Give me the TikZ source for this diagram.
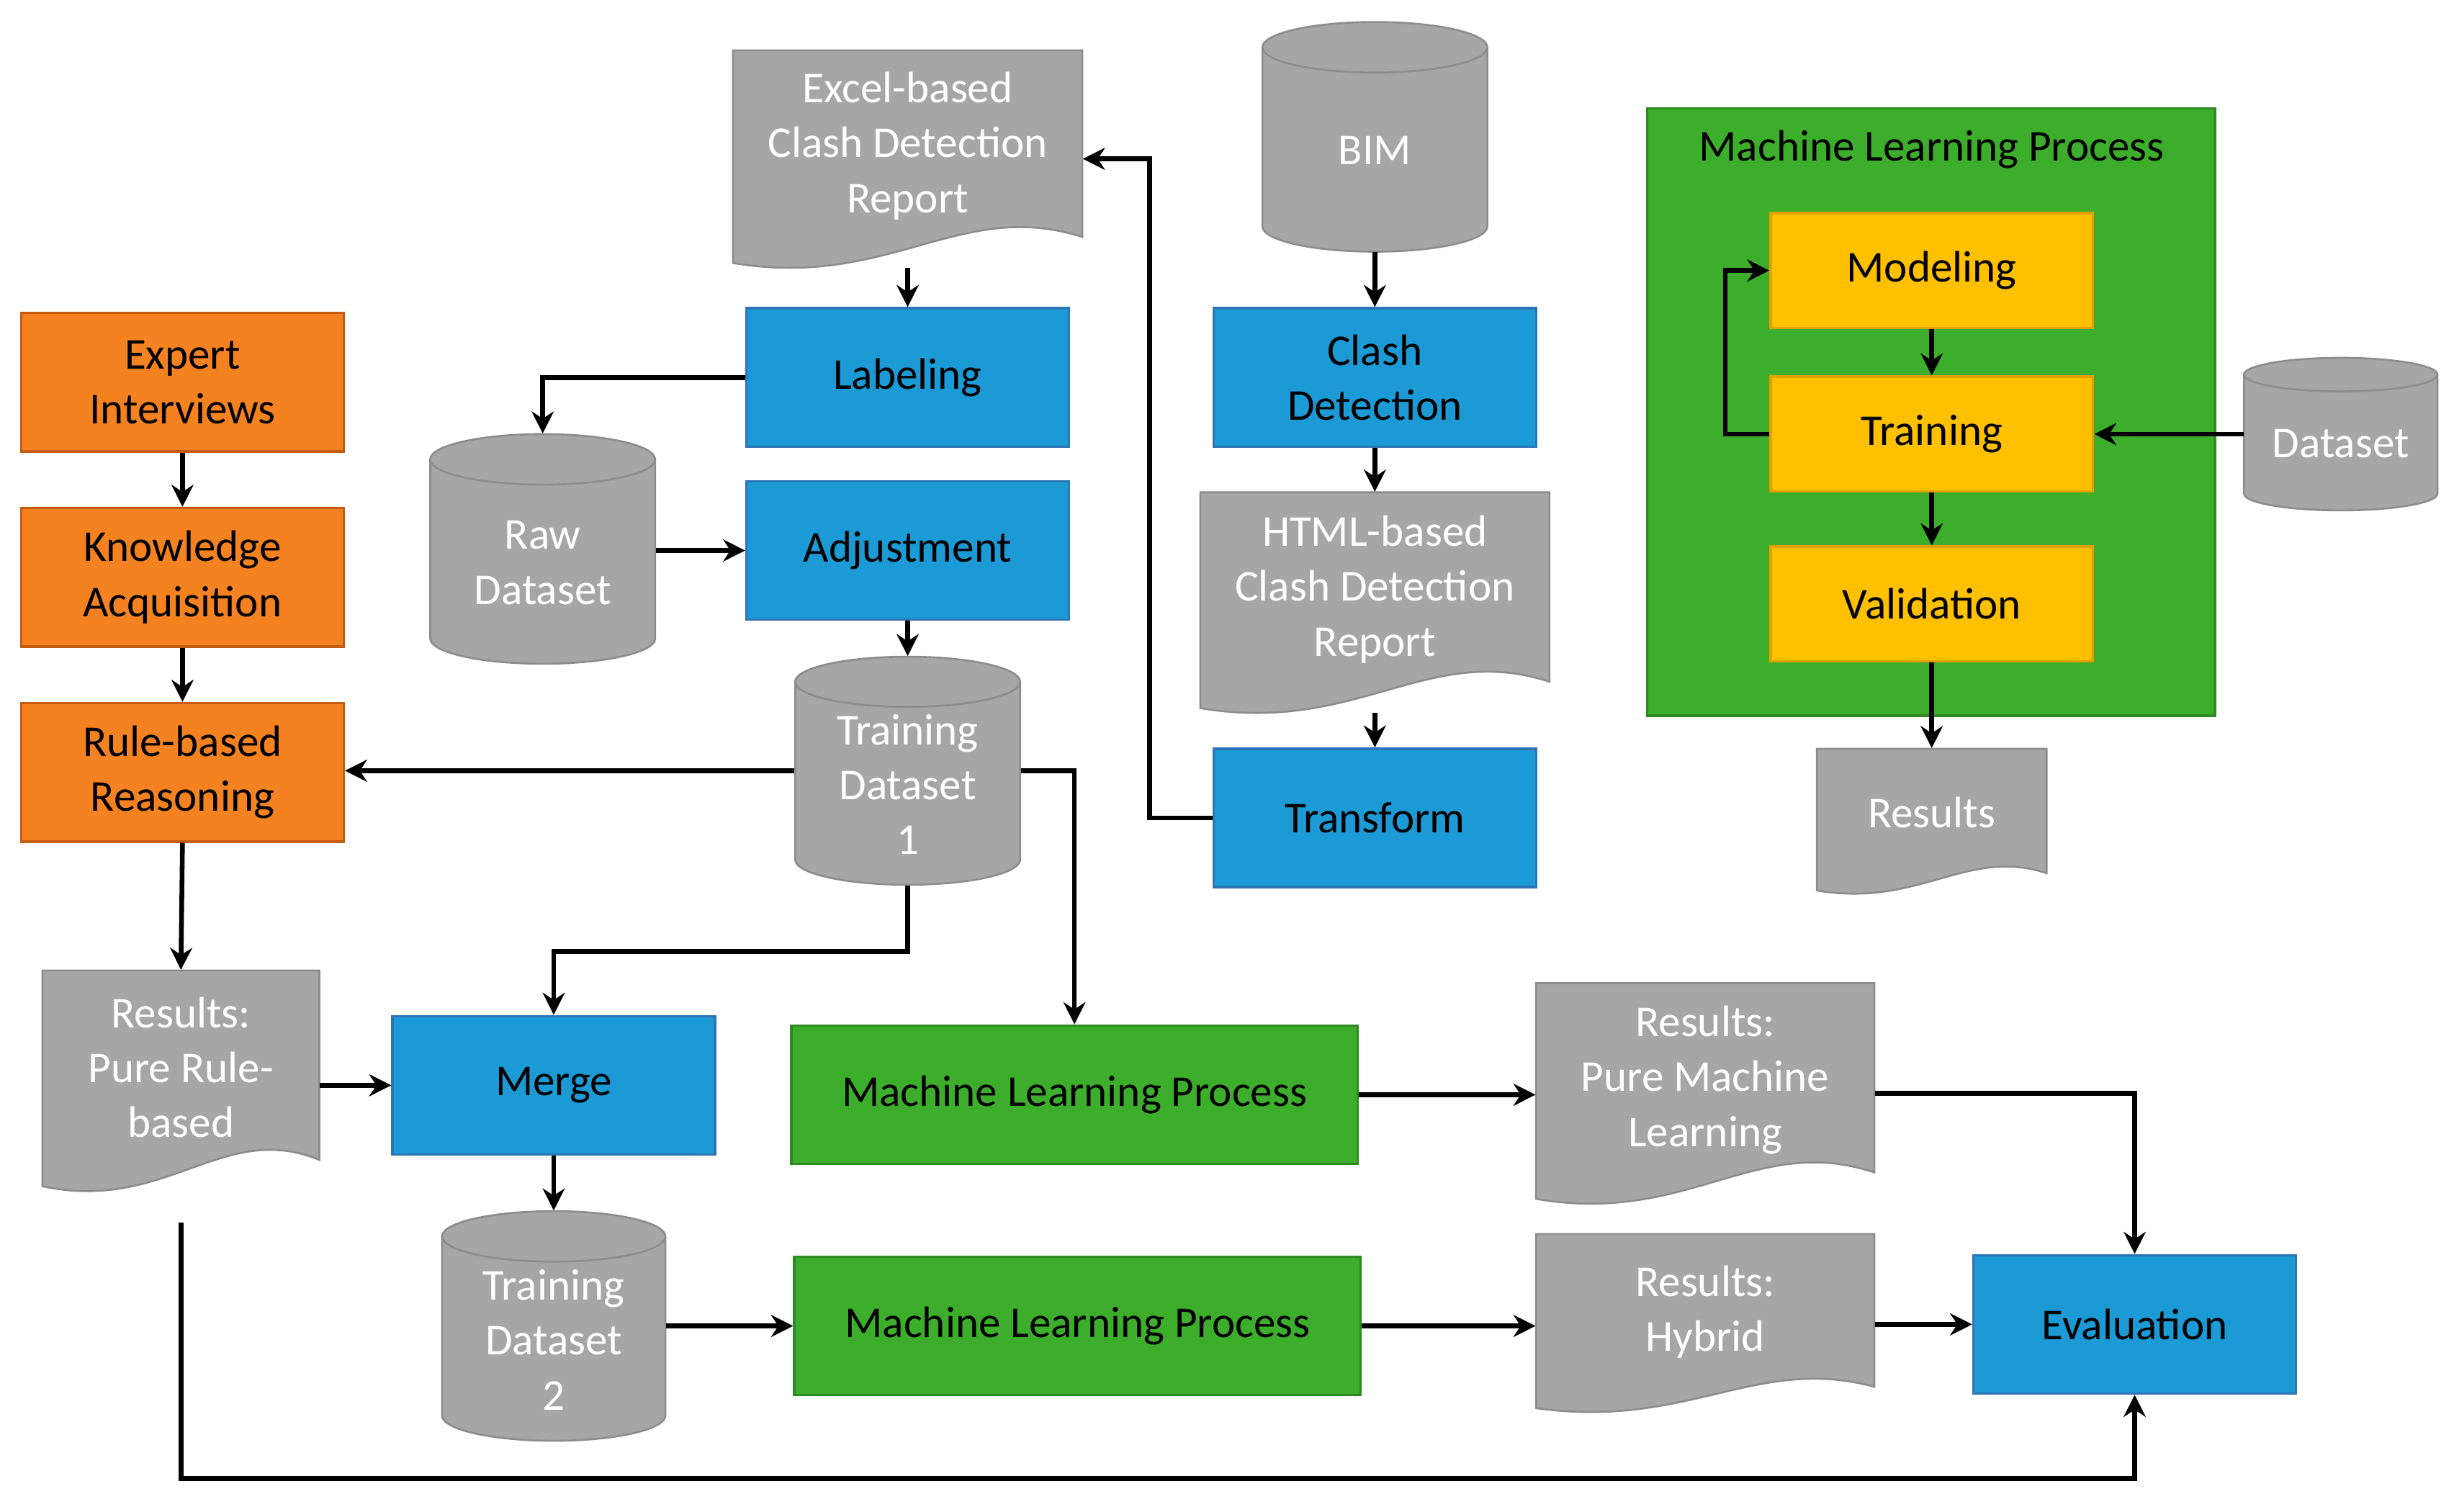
\documentclass[tikz,border=0pt]{standalone}
\usepackage{fontspec}
\setmainfont{Carlito}
\usetikzlibrary{arrows.meta}
\definecolor{gfill}{HTML}{A6A6A6}
\definecolor{gline}{HTML}{8C8C8C}
\definecolor{bfill}{HTML}{1C9AD6}
\definecolor{bline}{HTML}{2E75B6}
\definecolor{ofill}{HTML}{F58220}
\definecolor{oline}{HTML}{C55A11}
\definecolor{grfill}{HTML}{3DAE2B}
\definecolor{grline}{HTML}{2E8B22}
\definecolor{yfill}{HTML}{FFC000}
\definecolor{yline}{HTML}{E0A000}
\tikzset{
 x=0.5pt,y=-0.5pt,
 every node/.style={font=\fontsize{14}{17.5}\selectfont, align=center},
 box/.style={draw, line width=0.8pt, minimum width=102.5pt, minimum height=44pt, inner sep=1pt},
 blue/.style={box, fill=bfill, draw=bline},
 orange/.style={box, fill=ofill, draw=oline},
 green/.style={box, fill=grfill, draw=grline},
 yellow/.style={box, fill=yfill, draw=yline, minimum height=36.5pt},
 arr/.style={line width=1.5pt, -{Stealth[length=7pt,width=7pt]}},
 gtext/.style={text=white}
}
% doc: name, cx, cy, w, h, text
\newcommand\docnode[6]{%
 \filldraw[fill=gfill, draw=gline, line width=0.6pt]
  ({#2-#4/2},{#3-#5/2}) -- ({#2+#4/2},{#3-#5/2}) -- ({#2+#4/2},{#3+#5/2-0.14*#5})
  .. controls ({#2+#4/2-0.35*#4},{#3+#5/2-0.32*#5}) and ({#2-#4/2+0.45*#4},{#3+#5/2+0.1*#5}) ..
  ({#2-#4/2},{#3+#5/2-0.02*#5}) -- cycle;
 \node[minimum width=#4*0.5pt, minimum height=#5*0.5pt, inner sep=0pt] (#1) at (#2,#3) {};
 \node[gtext] at (#2,{#3-0.06*#5}) {#6};
}
% cylinder: name, cx, cy, w, h, text
\newcommand\cylnode[6]{%
 \filldraw[fill=gfill, draw=gline, line width=0.6pt]
  ({#2-#4/2},{#3-#5/2+0.11*#5}) -- ({#2-#4/2},{#3+#5/2-0.11*#5})
  arc[start angle=180, end angle=0, x radius=#4/2, y radius=0.11*#5]
  -- ({#2+#4/2},{#3-#5/2+0.11*#5})
  arc[start angle=0, end angle=-180, x radius=#4/2, y radius=0.11*#5] -- cycle;
 \draw[gline, line width=0.6pt] ({#2-#4/2},{#3-#5/2+0.11*#5})
  arc[start angle=180, end angle=0, x radius=#4/2, y radius=0.11*#5];
 \node[minimum width=#4*0.5pt, minimum height=#5*0.5pt, inner sep=0pt] (#1) at (#2,#3) {};
 \node[gtext] at (#2,{#3+0.06*#5}) {#6};
}
\begin{document}
\begin{tikzpicture}
\useasboundingbox (0,0) rectangle (1560,961);
% big ML box
\filldraw[fill=grfill, draw=grline, line width=0.8pt] (1047,69) rectangle (1408,455);
\node at (1228,95) {Machine Learning Process};
\node[yellow] (mod) at (1228,172) {Modeling};
\node[yellow] (trn) at (1228,276) {Training};
\node[yellow] (val) at (1228,384) {Validation};
\cylnode{ds}{1488}{276}{123}{97}{Dataset}
\docnode{res}{1228}{522}{146}{92}{Results}

\node[orange] (exp) at (116,243) {Expert\\Interviews};
\node[orange] (kno) at (116,367) {Knowledge\\Acquisition};
\node[orange] (rule) at (116,491) {Rule-based\\Reasoning};
\docnode{rr}{115}{687}{176}{140}{Results:\\Pure Rule-\\based}
\node[blue] (merge) at (352,690) {Merge};
\cylnode{td2}{352}{843}{142}{146}{Training\\Dataset\\2}
\docnode{excel}{577}{101}{222}{138}{Excel-based\\Clash Detection\\Report}
\node[blue] (lab) at (577,240) {Labeling};
\cylnode{raw}{345}{349}{143}{146}{Raw\\Dataset}
\node[blue] (adj) at (577,350) {Adjustment};
\cylnode{td1}{577}{490}{143}{145}{Training\\Dataset\\1}
\cylnode{bim}{874}{87}{143}{146}{BIM}
\node[blue] (cd) at (874,240) {Clash\\Detection};
\docnode{html}{874}{383}{222}{140}{HTML-based\\Clash Detection\\Report}
\node[blue] (tr) at (874,520) {Transform};
\node[green, minimum width=180pt] (ml1) at (683,696) {Machine Learning Process};
\node[green, minimum width=180pt] (ml2) at (685,843) {Machine Learning Process};
\docnode{rml}{1084}{695}{215}{140}{Results:\\Pure Machine\\Learning}
\docnode{rh}{1084}{841}{215}{113}{Results:\\Hybrid}
\node[blue] (ev) at (1357,842) {Evaluation};

% edges
\draw[arr] (mod) -- (trn);
\draw[arr] (trn) -- (val);
\draw[arr] (trn.west) -- ++(-28,0) |- (mod.west);
\draw[arr] (ds.west) -- (trn.east);
\draw[arr] (val.south) -- (res.north);
\draw[arr] (exp) -- (kno);
\draw[arr] (kno) -- (rule);
\draw[arr] (rule.south) -- (rr.north);
\draw[arr] (excel.south) -- (lab.north);
\draw[arr] (lab.west) -| (raw.north);
\draw[arr] (raw.east |- adj.west) -- (adj.west);
\draw[arr] (adj.south) -- (td1.north);
\draw[arr] (td1.west) -- (td1.west -| rule.east);
\draw[arr] (td1.east) -| (ml1.north);
\draw[arr] (td1.south) -- ++(0,42) -| (merge.north);
\draw[arr] (rr.east |- merge.west) -- (merge.west);
\draw[arr] (merge.south) -- (td2.north);
\draw[arr] (td2.east |- ml2.west) -- (ml2.west);
\draw[arr] (bim.south) -- (cd.north);
\draw[arr] (cd.south) -- (html.north);
\draw[arr] (html.south) -- (tr.north);
\draw[arr] (tr.west) -- ++(-40,0) |- (excel.east);
\draw[arr] (ml1.east) -- (ml1.east -| rml.west);
\draw[arr] (rml.east) -| (ev.north);
\draw[arr] (ml2.east) -- (ml2.east -| rh.west);
\draw[arr] (rh.east |- ev.west) -- (ev.west);
\coordinate (bot) at (0,940);
\draw[arr] ([yshift=-10pt]rr.south) |- (bot -| ev.south) -- (ev.south);
\end{tikzpicture}
\end{document}
